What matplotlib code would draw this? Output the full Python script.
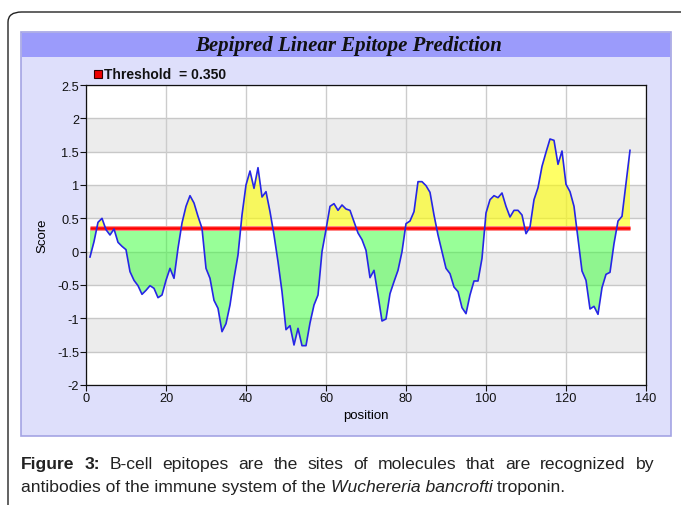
import numpy as np
import matplotlib
matplotlib.use('Agg')
import matplotlib.pyplot as plt
from matplotlib.patches import Rectangle, FancyBboxPatch

# Bepipred scores per residue position
positions = np.arange(1, 137)
scores = np.array([
    -0.08, 0.15, 0.44, 0.50, 0.33, 0.25, 0.34, 0.14, 0.08, 0.03,
    -0.30, -0.43, -0.51, -0.64, -0.58, -0.51, -0.55, -0.69, -0.65, -0.43,
    -0.25, -0.40, 0.05, 0.43, 0.68, 0.84, 0.73, 0.53, 0.35, -0.25,
    -0.40, -0.73, -0.85, -1.20, -1.08, -0.80, -0.40, -0.05, 0.55, 1.00,
    1.21, 0.95, 1.26, 0.82, 0.90, 0.60, 0.25, -0.15, -0.60, -1.17,
    -1.11, -1.40, -1.15, -1.41, -1.41, -1.07, -0.80, -0.65, 0.00, 0.33,
    0.68, 0.72, 0.62, 0.70, 0.64, 0.62, 0.45, 0.28, 0.18, 0.02,
    -0.39, -0.28, -0.65, -1.04, -1.01, -0.63, -0.45, -0.28, 0.00, 0.42,
    0.46, 0.60, 1.05, 1.05, 0.99, 0.89, 0.55, 0.25, 0.00, -0.25,
    -0.33, -0.53, -0.60, -0.84, -0.93, -0.65, -0.44, -0.44, -0.10, 0.58,
    0.78, 0.84, 0.81, 0.88, 0.68, 0.52, 0.62, 0.62, 0.55, 0.27,
    0.37, 0.78, 0.96, 1.28, 1.49, 1.69, 1.67, 1.31, 1.51, 1.01,
    0.90, 0.68, 0.20, -0.29, -0.43, -0.86, -0.82, -0.94, -0.54, -0.34,
    -0.31, 0.12, 0.46, 0.53, 1.03, 1.52,
])
threshold = 0.35

x_ticks = [0, 20, 40, 60, 80, 100, 120, 140]
y_ticks = [2.5, 2, 1.5, 1, 0.5, 0, -0.5, -1, -1.5, -2]
y_tick_labels = ['2.5', '2', '1.5', '1', '0.5', '0', '-0.5', '-1', '-1.5', '-2']

title = 'Bepipred Linear Epitope Prediction'
legend_text = 'Threshold  = 0.350'
caption_line1 = 'B-cell epitopes are the sites of molecules that are recognized by'
caption_line2_runs = [('antibodies of the immune system of the ', 'normal'),
                      ('Wuchereria bancrofti', 'italic'),
                      (' troponin.', 'normal')]

W, H = 681, 506
plt.rcParams['font.family'] = ['Liberation Sans', 'DejaVu Sans']
plt.rcParams['axes.unicode_minus'] = False

fig = plt.figure(figsize=(W / 100, H / 100), dpi=100)
fig.patch.set_facecolor('white')


def fx(px):
    return px / W


def fy(py):
    return 1 - py / H


# outer rounded frame (runs off the right and bottom edges)
frame = FancyBboxPatch((fx(8), fy(560)), fx(720), fy(13) - fy(560),
                       boxstyle='round,pad=0,rounding_size=0.02',
                       transform=fig.transFigure, facecolor='none',
                       edgecolor='#222222', lw=1.0, zorder=-2)
fig.add_artist(frame)

# chart panel and title band
fig.add_artist(Rectangle((fx(21), fy(437)), fx(650), fy(33) - fy(437),
                         transform=fig.transFigure, facecolor='#dedffb',
                         edgecolor='#a4a4e4', lw=1.2, zorder=-1))
fig.add_artist(Rectangle((fx(22), fy(58)), fx(648), fy(34) - fy(58),
                         transform=fig.transFigure, facecolor='#9b9bfb',
                         edgecolor='none', zorder=-1))
fig.text(fx(349), fy(46), title, ha='center', va='center',
         family='Liberation Serif', style='italic', weight='bold',
         fontsize=15, color='#111111')

ax = fig.add_axes([fx(86), fy(386), fx(560), fy(86) - fy(386)])
ax.set_zorder(5)
ax.set_facecolor('white')
for lo in [1.5, 0.5, -0.5, -1.5]:
    ax.axhspan(lo, lo + 0.5, color='#ececec', lw=0, zorder=0)
for yv in y_ticks:
    ax.axhline(yv, color='#c8c8c8', lw=1.0, zorder=0.5)
for xv in x_ticks:
    ax.axvline(xv, color='#cccccc', lw=1.0, zorder=0.5)

ax.fill_between(positions, scores, threshold, where=scores >= threshold,
                interpolate=True, color='#ffff00', alpha=0.6, lw=0, zorder=1)
ax.fill_between(positions, scores, threshold, where=scores <= threshold,
                interpolate=True, color='#33ff33', alpha=0.5, lw=0, zorder=1)
ax.plot([positions[0], positions[-1]], [threshold, threshold],
        color='#ff8080', lw=3.5, zorder=2, solid_capstyle='butt')
ax.plot([positions[0], positions[-1]], [threshold, threshold],
        color='#ff0000', lw=1.8, zorder=2.1, solid_capstyle='butt')
ax.plot(positions, scores, color='#2626e6', lw=1.2, zorder=3)

ax.set_xlim(0, 140)
ax.set_ylim(-2, 2.5)
ax.set_xticks(x_ticks)
ax.set_yticks(y_ticks)
ax.set_yticklabels(y_tick_labels)
ax.tick_params(direction='out', length=4, width=0.8, labelsize=9.2,
               colors='#111111', pad=1)
for s in ax.spines.values():
    s.set_color('#111111')
    s.set_linewidth(0.9)
ax.set_xlabel('position', fontsize=9.5, labelpad=4)
ax.set_ylabel('Score', fontsize=9.5, labelpad=6)

# legend
fig.add_artist(Rectangle((fx(94), fy(79)), fx(8), fy(71) - fy(79),
                         transform=fig.transFigure, facecolor='#ee0000',
                         edgecolor='#330000', lw=0.8))
fig.text(fx(104), fy(75), legend_text, ha='left', va='center',
         fontsize=10, weight='bold', color='#111111')

# caption
cap_size = 12.6
renderer = fig.canvas.get_renderer()


def width_px(s, **kw):
    t = fig.text(0, 0, s, fontsize=cap_size, **kw)
    w = t.get_window_extent(renderer).width
    t.remove()
    return w


x0, x1 = 21, 654
y1, y2 = 465, 488
words = [('Figure', 'bold'), ('3:', 'bold')] + [(w, 'normal') for w in caption_line1.split()]
widths = [width_px(w, weight=wt) for w, wt in words]
gap = (x1 - x0 - sum(widths)) / (len(words) - 1)
x = x0
for (w, wt), wd in zip(words, widths):
    fig.text(fx(x), fy(y1), w, fontsize=cap_size, weight=wt, ha='left',
             va='center', color='#222222')
    x += wd + gap

x = x0
for s, st in caption_line2_runs:
    fig.text(fx(x), fy(y2), s, fontsize=cap_size, style=st, ha='left',
             va='center', color='#222222')
    x += width_px(s, style=st)

fig.savefig('out.png', dpi=100)
